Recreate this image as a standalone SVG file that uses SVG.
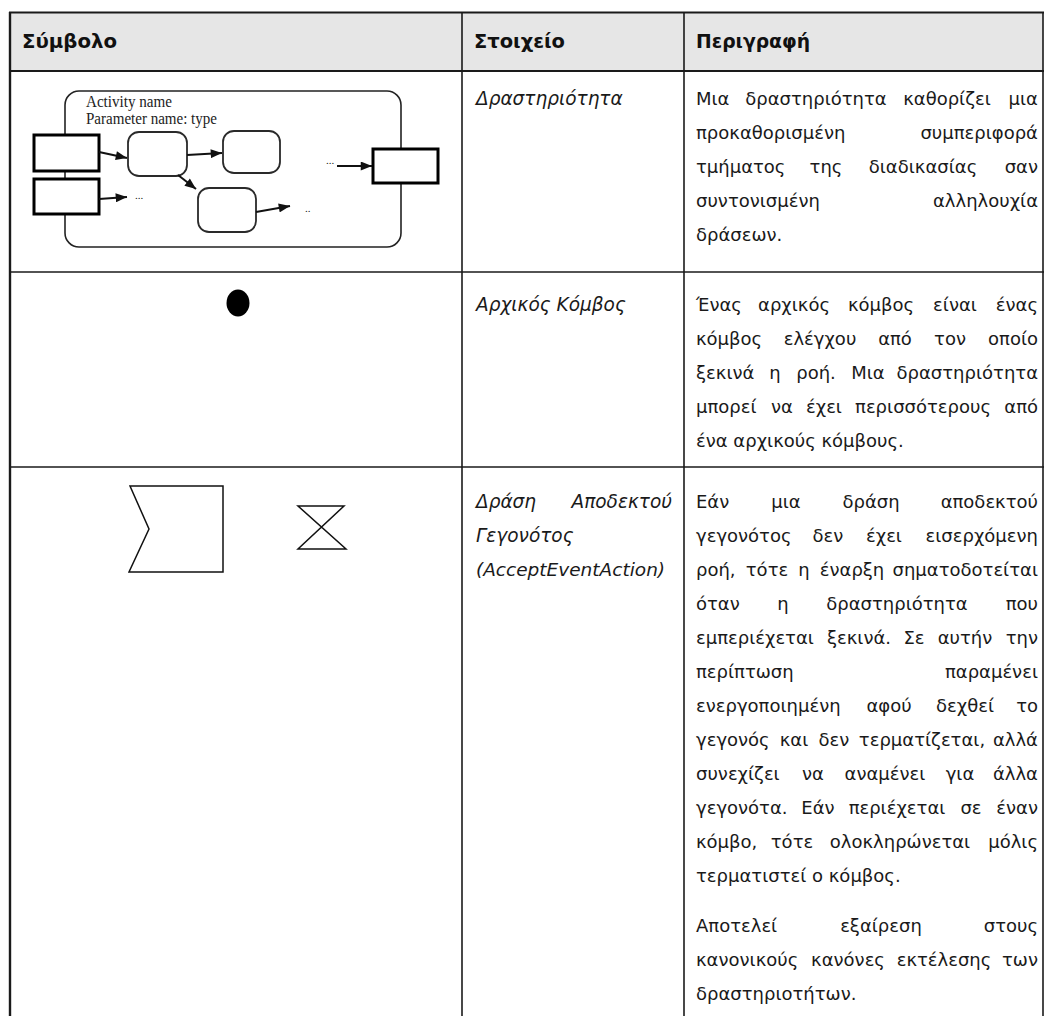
<svg xmlns="http://www.w3.org/2000/svg" width="1044" height="1016" viewBox="0 0 1044 1016">
  <defs>
    <marker id="arrow" viewBox="0 0 10 8" markerWidth="12" markerHeight="9" refX="10" refY="4" orient="auto" markerUnits="userSpaceOnUse">
      <path d="M0,0 L10,4 L0,8 Z" fill="#111"/>
    </marker>
  </defs>
  <style>
    .grid { stroke: #1a1a1a; stroke-width: 1.6; fill: none; }
    .hd { font-family: "DejaVu Sans Condensed", "DejaVu Sans", sans-serif; font-stretch: condensed; font-weight: bold; font-size: 19px; fill: #111; }
    .tx { font-family: "DejaVu Sans", "Noto Sans", sans-serif; font-size: 18px; fill: #1a1a1a; }
    .it { font-family: "DejaVu Sans", "Noto Sans", sans-serif; font-style: italic; font-size: 18.5px; fill: #1a1a1a; }
    .m { text-anchor: middle; }
    .e { text-anchor: end; }
    .frame { fill: none; stroke: #222; stroke-width: 1.6; }
    .pin { fill: #fff; stroke: #000; stroke-width: 3; }
    .act { fill: #fff; stroke: #2a2a2a; stroke-width: 1.8; }
    .flow { stroke: #111; stroke-width: 2; fill: none; marker-end: url(#arrow); }
    .serif { font-family: "Liberation Serif", "DejaVu Serif", serif; font-size: 16px; fill: #222; }
    .dots { font-family: "Liberation Serif", serif; font-size: 11px; fill: #222; }
    .sym { fill: none; stroke: #111; stroke-width: 1.5; stroke-linejoin: miter; }
  </style>

  <rect width="1044" height="1016" fill="#fff"/>

  <!-- table header band -->
  <rect x="10" y="12" width="1033" height="59" fill="#e6e6e6"/>

  <!-- table grid -->
  <g id="grid" class="grid">
    <line x1="9" y1="12.5" x2="1044" y2="12.5" stroke-width="2"/>
    <line x1="9" y1="71" x2="1044" y2="71" stroke-width="2"/>
    <line x1="9" y1="272" x2="1044" y2="272"/>
    <line x1="9" y1="467" x2="1044" y2="467"/>
    <line x1="10" y1="12" x2="10" y2="1016" stroke-width="2.4"/>
    <line x1="462" y1="12" x2="462" y2="1016"/>
    <line x1="684" y1="12" x2="684" y2="1016"/>
    <line x1="1043" y1="12" x2="1043" y2="1016"/>
  </g>

  <!-- header -->
  <g id="header">
    <text class="hd" x="22" y="48" textLength="95" lengthAdjust="spacingAndGlyphs">Σύμβολο</text>
    <text class="hd" x="474" y="48" textLength="91" lengthAdjust="spacingAndGlyphs">Στοιχείο</text>
    <text class="hd" x="696" y="48" textLength="114" lengthAdjust="spacingAndGlyphs">Περιγραφή</text>
  </g>

  <!-- row 1: activity -->
  <g id="activity-symbol">
    <rect class="frame" x="65" y="91" width="336" height="156" rx="14"/>
    <text class="serif" x="86" y="107" textLength="86" lengthAdjust="spacingAndGlyphs">Activity name</text>
    <text class="serif" x="86" y="124" textLength="131" lengthAdjust="spacingAndGlyphs">Parameter name: type</text>
    <g id="pin-in-1"><rect class="pin" x="34" y="135" width="65" height="36"/></g>
    <g id="pin-in-2"><rect class="pin" x="34" y="179" width="65" height="35"/></g>
    <g id="pin-out"><rect class="pin" x="373" y="149" width="65" height="34"/></g>
    <g id="action-1"><rect class="act" x="128" y="132" width="59" height="44" rx="11"/></g>
    <g id="action-2"><rect class="act" x="223" y="131" width="57" height="42" rx="11"/></g>
    <g id="action-3"><rect class="act" x="198" y="188" width="58" height="44" rx="11"/></g>
    <g id="flows">
      <path class="flow" d="M99,152 L127,158"/>
      <path class="flow" d="M187,155 L222,153"/>
      <path class="flow" d="M178,175 L196,189"/>
      <path class="flow" d="M99,199 L127,197"/>
      <path class="flow" d="M256,212 L290,206"/>
      <path class="flow" d="M337,166 L372,166" stroke-width="3"/>
    </g>
    <text class="dots" x="135" y="199">...</text>
    <text class="dots" x="305" y="212">..</text>
    <text class="dots" x="326" y="164">...</text>
  </g>
  <g id="activity-name">
    <text class="it" x="476" y="105">Δραστηριότητα</text>
  </g>
  <g id="activity-desc" class="tx">
    <text x="696" y="105">Μια</text>
    <text class="m" x="816" y="105">δραστηριότητα</text>
    <text class="m" x="947" y="105">καθορίζει</text>
    <text class="e" x="1038" y="105">μια</text>

    <text x="696" y="139">προκαθορισμένη</text>
    <text class="e" x="1038" y="139">συμπεριφορά</text>

    <text x="696" y="173">τμήματος</text>
    <text class="m" x="826" y="173">της</text>
    <text class="m" x="923" y="173">διαδικασίας</text>
    <text class="e" x="1038" y="173">σαν</text>

    <text x="696" y="207">συντονισμένη</text>
    <text class="e" x="1038" y="207">αλληλουχία</text>

    <text x="696" y="241">δράσεων.</text>
  </g>

  <!-- row 2: initial node -->
  <g id="initial-symbol">
    <ellipse cx="238" cy="303" rx="11.5" ry="13.5" fill="#000"/>
  </g>
  <g id="initial-name">
    <text class="it" x="476" y="311">Αρχικός Κόμβος</text>
  </g>
  <g id="initial-desc" class="tx">
    <text x="696" y="311">Ένας</text>
    <text class="m" x="794" y="311">αρχικός</text>
    <text class="m" x="881" y="311">κόμβος</text>
    <text class="m" x="955" y="311">είναι</text>
    <text class="e" x="1038" y="311">ένας</text>

    <text x="696" y="345">κόμβος</text>
    <text class="m" x="820" y="345">ελέγχου</text>
    <text class="m" x="895" y="345">από</text>
    <text class="m" x="950" y="345">τον</text>
    <text class="e" x="1038" y="345">οποίο</text>

    <text x="696" y="379">ξεκινά</text>
    <text class="m" x="775" y="379">η</text>
    <text class="m" x="816" y="379">ροή.</text>
    <text class="m" x="868" y="379">Μια</text>
    <text class="e" x="1038" y="379">δραστηριότητα</text>

    <text x="696" y="413">μπορεί</text>
    <text class="m" x="782" y="413">να</text>
    <text class="m" x="824" y="413">έχει</text>
    <text class="m" x="923" y="413">περισσότερους</text>
    <text class="e" x="1038" y="413">από</text>

    <text x="696" y="447">ένα αρχικούς κόμβους.</text>
  </g>

  <!-- row 3: accept event action -->
  <g id="accept-symbol">
    <polygon class="sym" points="130,486 223,486 223,572 129,572 149,529"/>
    <path class="sym" d="M298,506 L344,506 L298,549 L346,549 Z"/>
  </g>
  <g id="accept-name" class="it">
    <text x="476" y="508">Δράση</text>
    <text class="e" x="672" y="508">Αποδεκτού</text>
    <text x="476" y="542">Γεγονότος</text>
    <text x="476" y="576">(AcceptEventAction)</text>
  </g>
  <g id="accept-desc" class="tx">
    <text x="696" y="508">Εάν</text>
    <text class="m" x="786" y="508">μια</text>
    <text class="m" x="871" y="508">δράση</text>
    <text class="e" x="1038" y="508">αποδεκτού</text>

    <text x="696" y="542">γεγονότος</text>
    <text class="m" x="828" y="542">δεν</text>
    <text class="m" x="884" y="542">έχει</text>
    <text class="e" x="1038" y="542">εισερχόμενη</text>

    <text x="696" y="576">ροή,</text>
    <text class="m" x="767" y="576">τότε</text>
    <text class="m" x="804" y="576">η</text>
    <text class="m" x="852" y="576">έναρξη</text>
    <text class="e" x="1038" y="576">σηματοδοτείται</text>

    <text x="696" y="610">όταν</text>
    <text class="m" x="783" y="610">η</text>
    <text class="m" x="897" y="610">δραστηριότητα</text>
    <text class="e" x="1038" y="610">που</text>

    <text x="696" y="644">εμπεριέχεται</text>
    <text class="m" x="859" y="644">ξεκινά.</text>
    <text class="m" x="914" y="644">Σε</text>
    <text class="m" x="965" y="644">αυτήν</text>
    <text class="e" x="1038" y="644">την</text>

    <text x="696" y="678">περίπτωση</text>
    <text class="e" x="1038" y="678">παραμένει</text>

    <text x="696" y="712">ενεργοποιημένη</text>
    <text class="m" x="889" y="712">αφού</text>
    <text class="m" x="965" y="712">δεχθεί</text>
    <text class="e" x="1038" y="712">το</text>

    <text x="696" y="746">γεγονός</text>
    <text class="m" x="794" y="746">και</text>
    <text class="m" x="834" y="746">δεν</text>
    <text class="m" x="922" y="746">τερματίζεται,</text>
    <text class="e" x="1038" y="746">αλλά</text>

    <text x="696" y="780">συνεχίζει</text>
    <text class="m" x="813" y="780">να</text>
    <text class="m" x="885" y="780">αναμένει</text>
    <text class="m" x="960" y="780">για</text>
    <text class="e" x="1038" y="780">άλλα</text>

    <text x="696" y="814">γεγονότα.</text>
    <text class="m" x="818" y="814">Εάν</text>
    <text class="m" x="897" y="814">περιέχεται</text>
    <text class="m" x="971" y="814">σε</text>
    <text class="e" x="1038" y="814">έναν</text>

    <text x="696" y="848">κόμβο,</text>
    <text class="m" x="792" y="848">τότε</text>
    <text class="m" x="900" y="848">ολοκληρώνεται</text>
    <text class="e" x="1038" y="848">μόλις</text>

    <text x="696" y="882">τερματιστεί ο κόμβος.</text>

    <text x="696" y="932">Αποτελεί</text>
    <text class="m" x="881" y="932">εξαίρεση</text>
    <text class="e" x="1038" y="932">στους</text>

    <text x="696" y="966">κανονικούς</text>
    <text class="m" x="848" y="966">κανόνες</text>
    <text class="m" x="944" y="966">εκτέλεσης</text>
    <text class="e" x="1038" y="966">των</text>

    <text x="696" y="1000">δραστηριοτήτων.</text>
  </g>
</svg>
